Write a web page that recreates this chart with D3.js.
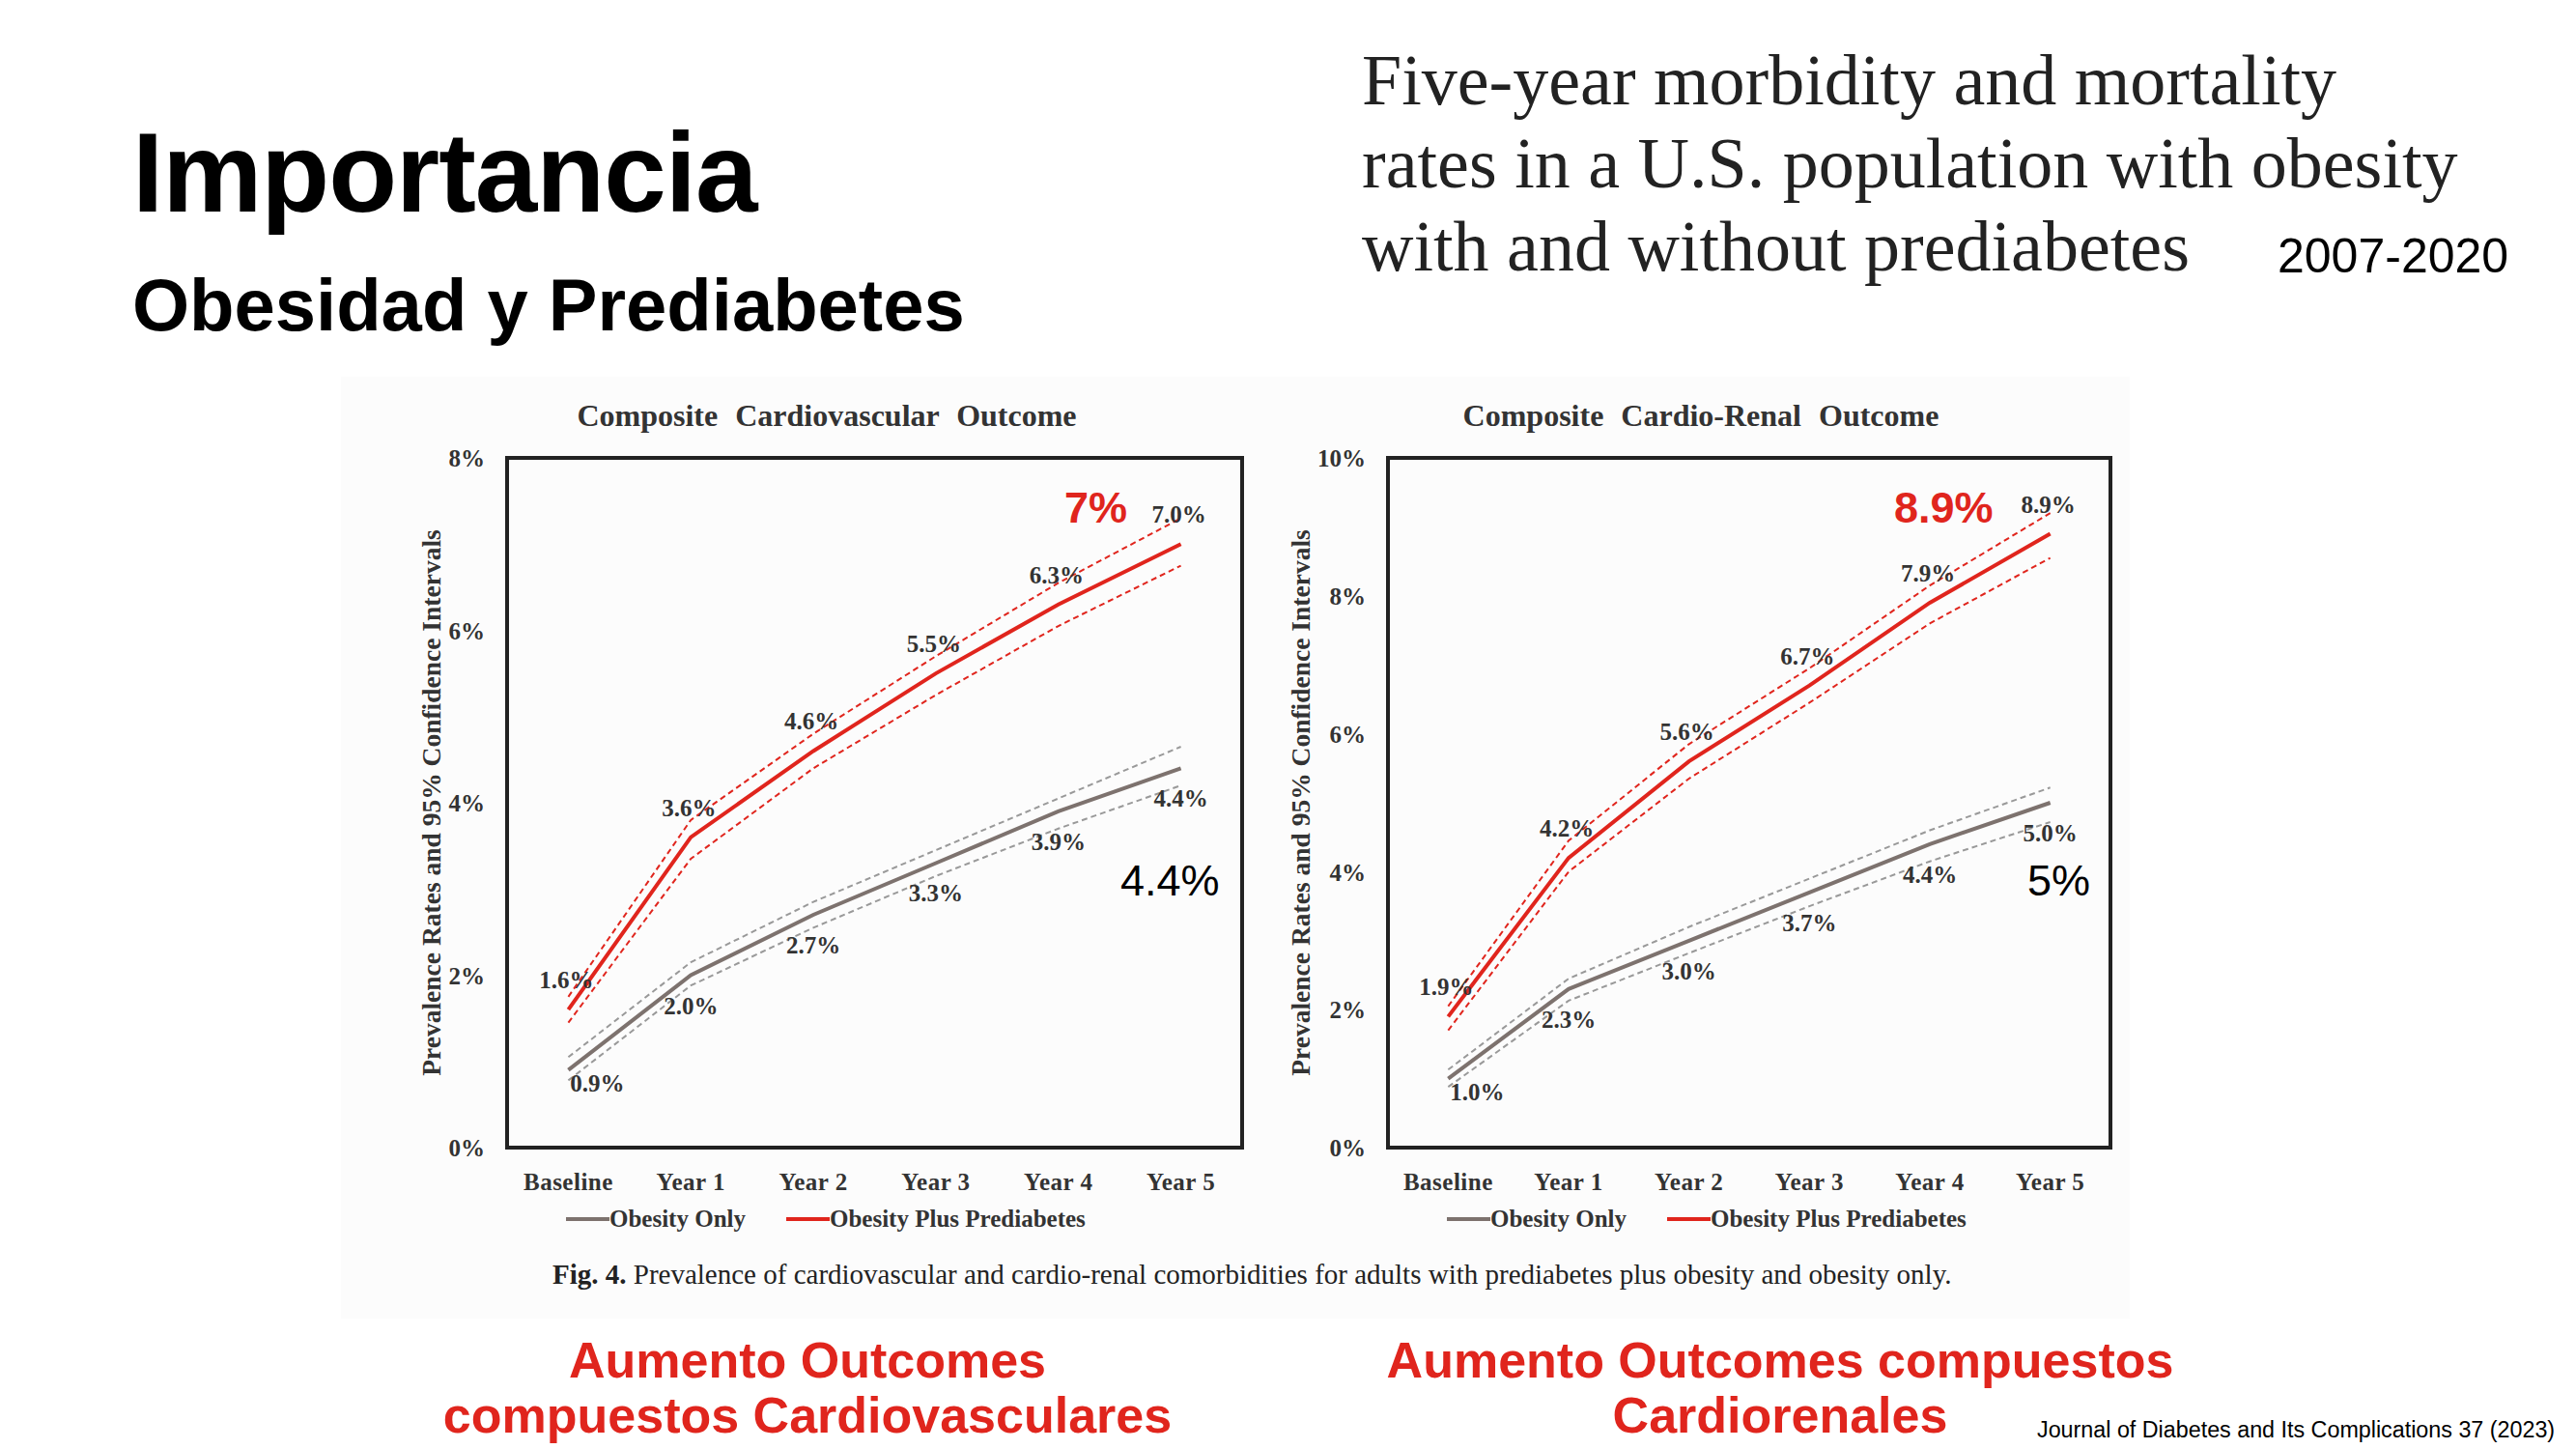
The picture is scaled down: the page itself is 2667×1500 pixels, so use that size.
<!DOCTYPE html>
<html>
<head>
<meta charset="utf-8">
<script src="https://cdn.jsdelivr.net/npm/d3@7"></script>
<style>
  html, body { margin: 0; padding: 0; background: #fff; }
  svg { display: block; }
</style>
</head>
<body>
<svg id="chart" width="2667" height="1500"></svg>
<script>
// chart values
const categories = ["Baseline", "Year 1", "Year 2", "Year 3", "Year 4", "Year 5"];

const cvTicks = [0, 2, 4, 6, 8];
const cvObesity   = [0.9, 2.0, 2.7, 3.3, 3.9, 4.4];
const cvObesityHi = [1.05, 2.15, 2.85, 3.45, 4.05, 4.65];
const cvObesityLo = [0.78, 1.88, 2.55, 3.15, 3.7, 4.2];
const cvPred      = [1.6, 3.6, 4.6, 5.5, 6.3, 7.0];
const cvPredHi    = [1.75, 3.8, 4.8, 5.7, 6.55, 7.3];
const cvPredLo    = [1.45, 3.35, 4.4, 5.25, 6.05, 6.75];

const crTicks = [0, 2, 4, 6, 8, 10];
const crObesity   = [1.0, 2.3, 3.0, 3.7, 4.4, 5.0];
const crObesityHi = [1.13, 2.45, 3.2, 3.9, 4.6, 5.22];
const crObesityLo = [0.88, 2.13, 2.82, 3.5, 4.15, 4.72];
const crPred      = [1.9, 4.2, 5.6, 6.7, 7.9, 8.9];
const crPredHi    = [2.05, 4.45, 5.85, 6.95, 8.15, 9.2];
const crPredLo    = [1.7, 4.0, 5.35, 6.45, 7.6, 8.55];

const seriesNames = ["Obesity Only", "Obesity Plus Prediabetes"];

const RED = "#e0251d";
const GREY = "#7d726e";
const SERIF = "'Liberation Serif', 'Times New Roman', serif";
const SANS = "'Liberation Sans', Arial, Helvetica, sans-serif";

const svg = d3.select("#chart");

// faint backdrop of the pasted figure
svg.append("rect").attr("x", 353).attr("y", 390).attr("width", 1852).attr("height", 975)
  .attr("fill", "#fcfcfc");

// slide headings
svg.append("text").attr("x", 137).attr("y", 219)
  .style("font", `bold 116px ${SANS}`).style("letter-spacing", "-1px").text("Importancia");
svg.append("text").attr("x", 137).attr("y", 342)
  .style("font", `bold 76px ${SANS}`).text("Obesidad y Prediabetes");

const headLines = ["Five-year morbidity and mortality", "rates in a U.S. population with obesity", "with and without prediabetes"];
svg.append("g").selectAll("text").data(headLines).join("text")
  .attr("x", 1410).attr("y", (d, i) => 108 + i * 86)
  .attr("fill", "#222").style("font", `74px ${SERIF}`).text(d => d);
svg.append("text").attr("x", 2358).attr("y", 282)
  .style("font", `50px ${SANS}`).text("2007-2020");

function drawPanel(opt) {
  const { left, right, top, bottom } = opt;
  const g = svg.append("g");

  const x = d3.scaleBand().domain(categories).range([left, right]);
  const y = d3.scaleLinear().domain([0, d3.max(opt.ticks)]).range([bottom, top]);
  const cx = c => x(c) + x.bandwidth() / 2;

  // title
  g.append("text").attr("x", opt.titleCx).attr("y", 441).attr("text-anchor", "middle")
    .attr("fill", "#333").style("font", `bold 32px ${SERIF}`).style("word-spacing", "10px")
    .text(opt.title);

  // y axis
  const ya = g.append("g").attr("transform", `translate(${left - 20},0)`)
    .call(d3.axisLeft(y).tickValues(opt.ticks).tickSize(0).tickFormat(d => d + "%"));
  ya.select(".domain").remove();
  ya.selectAll("text").attr("fill", "#333").attr("dy", "0.35em")
    .style("font", `bold 25px ${SERIF}`);

  // x axis
  const xa = g.append("g").attr("transform", `translate(0,${bottom + 20})`)
    .call(d3.axisBottom(x).tickSize(0));
  xa.select(".domain").remove();
  xa.selectAll("text").attr("fill", "#333").attr("dy", "0.85em")
    .style("font", `bold 25px ${SERIF}`).style("letter-spacing", "0.5px");

  // y axis title
  g.append("text").attr("transform", `translate(${opt.titleX},${(top + bottom) / 2}) rotate(-90)`)
    .attr("text-anchor", "middle").attr("dy", "0.35em").attr("fill", "#333")
    .style("font", `bold 27.5px ${SERIF}`)
    .text("Prevalence Rates and 95% Confidence Intervals");

  const line = d3.line().x((d, i) => cx(categories[i])).y(d => y(d));

  // confidence bands
  [[opt.obHi, "#999"], [opt.obLo, "#999"], [opt.prHi, RED], [opt.prLo, RED]]
    .forEach(([vals, col]) => {
      g.append("path").datum(vals).attr("d", line).attr("fill", "none")
        .attr("stroke", col).attr("stroke-width", 2).attr("stroke-dasharray", "6,4");
    });

  g.append("path").datum(opt.ob).attr("d", line).attr("fill", "none")
    .attr("stroke", GREY).attr("stroke-width", 4);
  g.append("path").datum(opt.pr).attr("d", line).attr("fill", "none")
    .attr("stroke", RED).attr("stroke-width", 4);

  // frame
  g.append("rect").attr("x", left).attr("y", top).attr("width", right - left).attr("height", bottom - top)
    .attr("fill", "none").attr("stroke", "#222").attr("stroke-width", 4);

  // data labels
  g.append("g").selectAll("text").data(opt.pr).join("text")
    .attr("x", (d, i) => cx(categories[i]) - 2).attr("y", d => y(d) - 22)
    .attr("text-anchor", "middle").attr("fill", "#333")
    .style("font", `bold 25px ${SERIF}`).text(d => d.toFixed(1) + "%");
  g.append("g").selectAll("text").data(opt.ob).join("text")
    .attr("x", (d, i) => cx(categories[i]) + (i === 0 ? 30 : 0))
    .attr("y", (d, i) => y(d) + (i === 0 ? 22 : 40))
    .attr("text-anchor", "middle").attr("fill", "#333")
    .style("font", `bold 25px ${SERIF}`).text(d => d.toFixed(1) + "%");

  // legend
  const lg = g.append("g").attr("transform", `translate(${left + 61},1262)`);
  [[0, GREY, seriesNames[0]], [228, RED, seriesNames[1]]].forEach(([dx, col, name]) => {
    lg.append("line").attr("x1", dx).attr("x2", dx + 45).attr("y1", 0).attr("y2", 0)
      .attr("stroke", col).attr("stroke-width", 4);
    lg.append("text").attr("x", dx + 45).attr("y", 8).attr("fill", "#333")
      .style("font", `bold 25px ${SERIF}`).text(name);
  });

  // highlighted end values
  g.append("text").attr("x", opt.redX).attr("y", 541).attr("fill", RED)
    .style("font", `bold 45px ${SANS}`).text(opt.redText);
  g.append("text").attr("x", opt.blackX).attr("y", 927).attr("fill", "#000")
    .style("font", `45px ${SANS}`).text(opt.blackText);

  // caption below each panel
  opt.note.forEach((t, i) => {
    svg.append("text").attr("x", opt.noteX).attr("y", 1426 + i * 57).attr("text-anchor", "middle")
      .attr("fill", RED).style("font", `bold 52px ${SANS}`).text(t);
  });
}

drawPanel({
  left: 525, right: 1286, top: 474, bottom: 1188, ticks: cvTicks, titleX: 446, titleCx: 856,
  title: "Composite Cardiovascular Outcome",
  ob: cvObesity, obHi: cvObesityHi, obLo: cvObesityLo,
  pr: cvPred, prHi: cvPredHi, prLo: cvPredLo,
  redText: "7%", redX: 1102, blackText: "4.4%", blackX: 1160,
  note: ["Aumento Outcomes", "compuestos Cardiovasculares"], noteX: 836
});

drawPanel({
  left: 1437, right: 2185, top: 474, bottom: 1188, ticks: crTicks, titleX: 1346, titleCx: 1761,
  title: "Composite Cardio-Renal Outcome",
  ob: crObesity, obHi: crObesityHi, obLo: crObesityLo,
  pr: crPred, prHi: crPredHi, prLo: crPredLo,
  redText: "8.9%", redX: 1961, blackText: "5%", blackX: 2099,
  note: ["Aumento Outcomes compuestos", "Cardiorenales"], noteX: 1843
});

// figure caption
const cap = svg.append("text").attr("x", 572).attr("y", 1329).attr("fill", "#222")
  .style("font", `29px ${SERIF}`);
cap.append("tspan").style("font-weight", "bold").text("Fig. 4.");
cap.append("tspan").text("  Prevalence of cardiovascular and cardio-renal comorbidities for adults with prediabetes plus obesity and obesity only.");

svg.append("text").attr("x", 2109).attr("y", 1488)
  .style("font", `23.3px ${SANS}`).text("Journal of Diabetes and Its Complications 37 (2023)");
</script>
</body>
</html>
